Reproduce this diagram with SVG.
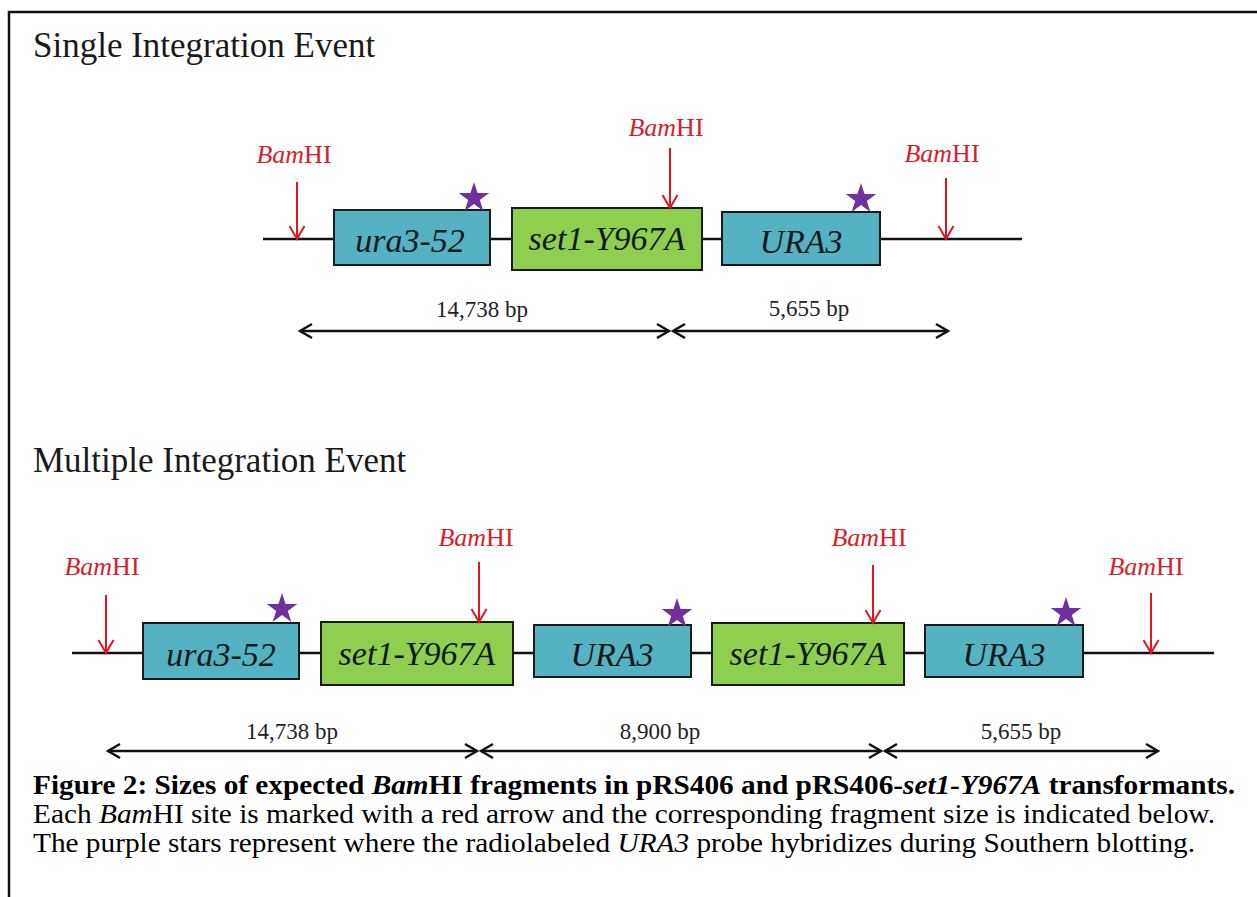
<svg xmlns="http://www.w3.org/2000/svg" width="1257" height="897" viewBox="0 0 1257 897">
  <style>
    .title { font-family: "Liberation Serif", "Times New Roman", serif; font-size: 35px; fill: #1a1a1a; }
    .gene { font-family: "Liberation Serif", "Times New Roman", serif; font-style: italic; font-size: 34px; fill: #101818; text-anchor: middle; }
    .teal { fill: #55B2C2; stroke: #1b1b1b; stroke-width: 2; }
    .green { fill: #8ECF50; stroke: #1b1b1b; stroke-width: 2; }
    .dna { stroke: #111; stroke-width: 2.5; fill: none; }
    .site { stroke: #E3161F; stroke-width: 2; fill: none; marker-end: url(#cut); }
    .enz { font-family: "Liberation Serif", "Times New Roman", serif; font-size: 26px; fill: #D81E2A; text-anchor: middle; }
    .size { stroke: #111; stroke-width: 2.5; fill: none; marker-start: url(#tipStart); marker-end: url(#tipEnd); }
    .bp { font-family: "Liberation Serif", "Times New Roman", serif; font-size: 23px; fill: #222; text-anchor: middle; }
    .probe { fill: #7030A0; }
    .cap { font-family: "Liberation Serif", "Times New Roman", serif; font-size: 27px; fill: #000; }
    .frame { stroke: #111; stroke-width: 2.5; fill: none; }
  </style>
  <defs>
    <!-- red open arrowhead for restriction sites -->
    <marker id="cut" markerUnits="userSpaceOnUse" viewBox="0 0 16 18" refX="14" refY="9" markerWidth="16" markerHeight="18" orient="auto">
      <path d="M1,1.5 L14,9 L1,16.5" fill="none" stroke="#E3161F" stroke-width="2"/>
    </marker>
    <!-- black open chevrons for fragment-size spans -->
    <marker id="tipEnd" markerUnits="userSpaceOnUse" viewBox="0 0 16 18" refX="14" refY="9" markerWidth="16" markerHeight="18" orient="auto">
      <path d="M2,2 L14,9 L2,16" fill="none" stroke="#111" stroke-width="2.5"/>
    </marker>
    <marker id="tipStart" markerUnits="userSpaceOnUse" viewBox="0 0 16 18" refX="2" refY="9" markerWidth="16" markerHeight="18" orient="auto">
      <path d="M14,2 L2,9 L14,16" fill="none" stroke="#111" stroke-width="2.5"/>
    </marker>
    <path id="star" d="M0,-16 L3.59,-4.94 L15.22,-4.94 L5.81,1.89 L9.40,12.94 L0,6.11 L-9.40,12.94 L-5.81,1.89 L-15.22,-4.94 L-3.59,-4.94 Z"/>
  </defs>

  <rect width="1257" height="897" fill="#fff"/>
  <!-- figure frame: top and left rules -->
  <path class="frame" d="M9,897 L9,12 L1257,12"/>

  <text class="title" x="33" y="57">Single Integration Event</text>
  <text class="title" x="33" y="472">Multiple Integration Event</text>

  <!-- DNA backbones and fragment spans -->
  <g id="connectors">
    <line class="dna" x1="263" y1="239" x2="1022" y2="239"/>
    <line class="dna" x1="72" y1="653" x2="1214" y2="653"/>

    <line class="size" x1="300" y1="331" x2="669" y2="331"/>
    <line class="size" x1="673" y1="331" x2="948" y2="331"/>

    <line class="size" x1="108" y1="751" x2="477" y2="751"/>
    <line class="size" x1="481" y1="751" x2="881" y2="751"/>
    <line class="size" x1="885" y1="751" x2="1158" y2="751"/>
  </g>

  <!-- single integration -->
  <g id="s-ura3-52">
    <rect class="teal" x="334" y="210" width="156" height="55"/>
    <text class="gene" x="410" y="252">ura3-52</text>
  </g>
  <g id="s-set1">
    <rect class="green" x="512" y="208" width="190" height="62"/>
    <text class="gene" x="607" y="250">set1-Y967A</text>
  </g>
  <g id="s-URA3">
    <rect class="teal" x="722" y="212" width="158" height="53"/>
    <text class="gene" x="801" y="253">URA3</text>
  </g>
  <g id="s-probes">
    <use href="#star" class="probe" x="474" y="198"/>
    <use href="#star" class="probe" x="861" y="199"/>
  </g>
  <g id="s-site1">
    <line class="site" x1="297" y1="182" x2="297" y2="239"/>
    <text class="enz" x="294" y="163"><tspan font-style="italic">Bam</tspan>HI</text>
  </g>
  <g id="s-site2">
    <line class="site" x1="670" y1="148" x2="670" y2="208"/>
    <text class="enz" x="666" y="136"><tspan font-style="italic">Bam</tspan>HI</text>
  </g>
  <g id="s-site3">
    <line class="site" x1="946" y1="178" x2="946" y2="239"/>
    <text class="enz" x="942" y="162"><tspan font-style="italic">Bam</tspan>HI</text>
  </g>
  <text class="bp" x="482" y="317">14,738 bp</text>
  <text class="bp" x="809" y="316">5,655 bp</text>

  <!-- multiple integration -->
  <g id="m-ura3-52">
    <rect class="teal" x="143" y="623" width="156" height="56"/>
    <text class="gene" x="221" y="666">ura3-52</text>
  </g>
  <g id="m-set1-a">
    <rect class="green" x="321" y="622" width="192" height="63"/>
    <text class="gene" x="417" y="665">set1-Y967A</text>
  </g>
  <g id="m-URA3-a">
    <rect class="teal" x="534" y="625" width="157" height="52"/>
    <text class="gene" x="612" y="666">URA3</text>
  </g>
  <g id="m-set1-b">
    <rect class="green" x="712" y="623" width="192" height="62"/>
    <text class="gene" x="808" y="665">set1-Y967A</text>
  </g>
  <g id="m-URA3-b">
    <rect class="teal" x="925" y="625" width="158" height="52"/>
    <text class="gene" x="1004" y="666">URA3</text>
  </g>
  <g id="m-probes">
    <use href="#star" class="probe" x="282" y="609"/>
    <use href="#star" class="probe" x="677" y="614"/>
    <use href="#star" class="probe" x="1066" y="613"/>
  </g>
  <g id="m-site1">
    <line class="site" x1="106" y1="595" x2="106" y2="653"/>
    <text class="enz" x="102" y="575"><tspan font-style="italic">Bam</tspan>HI</text>
  </g>
  <g id="m-site2">
    <line class="site" x1="479" y1="562" x2="479" y2="622"/>
    <text class="enz" x="476" y="546"><tspan font-style="italic">Bam</tspan>HI</text>
  </g>
  <g id="m-site3">
    <line class="site" x1="873" y1="565" x2="873" y2="623"/>
    <text class="enz" x="869" y="546"><tspan font-style="italic">Bam</tspan>HI</text>
  </g>
  <g id="m-site4">
    <line class="site" x1="1151" y1="593" x2="1151" y2="653"/>
    <text class="enz" x="1146" y="575"><tspan font-style="italic">Bam</tspan>HI</text>
  </g>
  <text class="bp" x="292" y="739">14,738 bp</text>
  <text class="bp" x="660" y="739">8,900 bp</text>
  <text class="bp" x="1021" y="739">5,655 bp</text>

  <!-- caption -->
  <text class="cap" x="33" y="794" font-weight="bold" textLength="1202" lengthAdjust="spacingAndGlyphs">Figure 2: Sizes of expected <tspan font-style="italic">Bam</tspan>HI fragments in pRS406 and pRS406-<tspan font-style="italic">set1-Y967A</tspan> transformants.</text>
  <text class="cap" x="33" y="823" textLength="1182" lengthAdjust="spacingAndGlyphs">Each <tspan font-style="italic">Bam</tspan>HI site is marked with a red arrow and the corresponding fragment size is indicated below.</text>
  <text class="cap" x="33" y="852" textLength="1162" lengthAdjust="spacingAndGlyphs">The purple stars represent where the radiolabeled <tspan font-style="italic">URA3</tspan> probe hybridizes during Southern blotting.</text>
</svg>
